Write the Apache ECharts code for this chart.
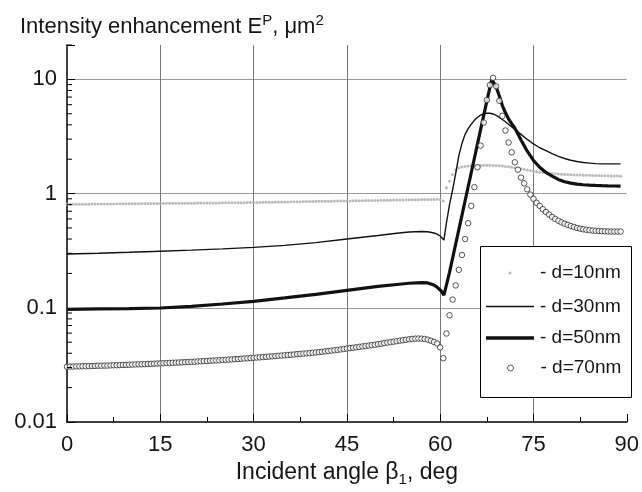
<!DOCTYPE html>
<html><head><meta charset="utf-8">
<script src="https://cdn.jsdelivr.net/npm/echarts@6/dist/echarts.min.js"></script>
<style>html,body{margin:0;padding:0;background:#fff}#c{width:642px;height:492px}</style>
</head><body><div id="c"></div>
<script>
const FONT = '"Liberation Sans", Arial, Helvetica, sans-serif';
const xTicks = [0, 15, 30, 45, 60, 75, 90];
const yTickLabels = ['0.01', '0.1', '1', '10'];
const yMinorTicks = [0.02,0.03,0.04,0.05,0.06,0.07,0.08,0.09,0.2,0.3,0.4,0.5,0.6,0.7,0.8,0.9,2,3,4,5,6,7,8,9,20];
const seriesNames = ['- d=10nm', '- d=30nm', '- d=50nm', '- d=70nm'];

// marker series sampled every 0.5 deg from 0 deg
const dotStart = 0, dotStep = 0.5;
const d10 = [
 .805,.805,.806,.806,.807,.807,.808,.808,.809,.809,
 .810,.810,.811,.811,.812,.812,.813,.813,.814,.814,
 .815,.815,.816,.816,.817,.817,.818,.818,.819,.819,
 .820,.820,.821,.821,.822,.822,.823,.823,.824,.824,
 .825,.825,.826,.826,.827,.827,.828,.828,.829,.829,
 .830,.830,.831,.831,.832,.832,.833,.833,.834,.834,
 .835,.836,.837,.838,.839,.840,.841,.842,.843,.844,
 .845,.846,.847,.848,.849,.850,.851,.852,.853,.854,
 .855,.856,.856,.857,.858,.858,.859,.860,.860,.861,
 .862,.863,.864,.865,.866,.867,.868,.869,.870,.871,
 .872,.873,.874,.875,.876,.877,.878,.879,.880,.881,
 .882,.883,.884,.885,.886,.887,.888,.889,.889,.890,
 .885,.860,1.125,1.28,1.47,1.62,1.68,1.71,1.73,1.745,
 1.755,1.76,1.765,1.768,1.77,1.77,1.768,1.765,1.76,1.753,
 1.745,1.73,1.715,1.70,1.685,1.67,1.65,1.63,1.61,1.59,
 1.57,1.555,1.54,1.53,1.52,1.51,1.50,1.492,1.485,1.478,
 1.47,1.466,1.462,1.458,1.455,1.452,1.45,1.447,1.445,1.442,
 1.44,1.437,1.435,1.432,1.43,1.428,1.425,1.423,1.42
];
const d70 = [
 .0305,.0306,.0306,.0307,.0307,.0308,.0308,.0309,.0309,.0310,
 .0311,.0311,.0312,.0312,.0313,.0314,.0314,.0315,.0316,.0316,
 .0317,.0318,.0319,.0320,.0320,.0321,.0322,.0323,.0324,.0325,
 .0326,.0327,.0328,.0329,.0330,.0331,.0332,.0333,.0334,.0335,
 .0336,.0337,.0339,.0340,.0341,.0342,.0344,.0345,.0346,.0347,
 .0349,.0350,.0352,.0353,.0355,.0356,.0358,.0360,.0361,.0363,
 .0365,.0367,.0368,.0370,.0372,.0374,.0376,.0378,.0380,.0382,
 .0384,.0386,.0388,.0390,.0393,.0395,.0397,.0399,.0401,.0404,
 .0406,.0409,.0412,.0415,.0418,.0422,.0425,.0428,.0432,.0436,
 .0440,.0443,.0447,.0451,.0455,.0459,.0463,.0467,.0471,.0475,
 .0480,.0485,.0490,.0495,.0500,.0505,.0510,.0515,.0520,.0525,
 .0530,.0534,.0537,.0538,.0537,.0533,.0526,.0515,.0502,.0487,
 .0450,.0362,.0595,.086,.118,.157,.215,.29,.40,.55,
 .78,1.14,1.70,2.63,4.19,6.6,8.9,10.3,8.7,6.5,
 4.79,3.57,2.80,2.30,1.88,1.62,1.38,1.23,1.09,.98,
 .90,.83,.78,.73,.69,.655,.625,.60,.578,.56,
 .545,.532,.52,.51,.50,.493,.487,.482,.478,.475,
 .472,.47,.468,.467,.466,.465,.465,.465,.465
];

// line series
const ang30 = [0,5,10,15,20,25,30,35,40,45,50,53,55,57,58,59,59.5,60,60.3,60.6,61,61.5,62,62.5,63,63.5,64,64.5,65,65.5,66,66.5,67,67.5,68,68.5,69,69.5,70,71,72,73,74,75,76,77,78,79,80,81,82,83,84,85,86,87,88,89];
const d30 = [.296,.300,.306,.313,.320,.328,.338,.352,.372,.400,.430,.450,.461,.466,.463,.452,.442,.425,.410,.392,.55,.80,1.08,1.5,2.15,2.75,3.3,3.7,4.05,4.38,4.66,4.87,5.0,5.06,5.05,4.98,4.85,4.65,4.45,4.05,3.65,3.3,2.98,2.72,2.52,2.38,2.24,2.12,2.03,1.96,1.91,1.87,1.85,1.83,1.82,1.82,1.82,1.82];
const ang50 = [0,5,10,15,20,25,30,35,40,45,50,53,55,57,58,59,59.5,60,60.3,60.6,61,61.5,62,62.5,63,63.5,64,64.5,65,65.5,66,66.5,67,67.5,68,68.3,68.5,69,69.5,70,70.5,71,71.5,72,73,74,75,76,77,78,79,80,81,82,83,84,85,86,87,88,89];
const d50 = [.097,.098,.0985,.0996,.103,.108,.114,.122,.131,.142,.154,.160,.164,.166,.165,.158,.152,.143,.137,.129,.158,.204,.272,.363,.484,.645,.861,1.148,1.53,2.04,2.72,3.63,4.84,6.46,8.5,10.0,9.8,8.6,7.2,5.9,5.1,4.5,4.1,3.75,2.95,2.35,1.95,1.70,1.53,1.42,1.33,1.27,1.235,1.21,1.195,1.185,1.178,1.172,1.168,1.165,1.162];

const pairsFromStep = (vals) => vals.map((v, i) => [dotStart + i * dotStep, v]);
const pairsFromAng = (angs, vals) => angs.map((a, i) => [a, vals[i]]);

const txt = '#151515';
const chart = echarts.init(document.getElementById('c'), null, {renderer: 'canvas'});

// legend rows: icon area spans 48px starting at x=486; text starts after it
const LEG_X = 486, LEG_W = 48;
function legendFor(name, rowTop, itemHeight, iconExtent, style) {
  return {
    show: true, data: [{name: name, icon: style.icon}],
    left: LEG_X + (LEG_W - iconExtent) / 2, top: rowTop,
    orient: 'horizontal', padding: 0, itemWidth: LEG_W, itemHeight: itemHeight,
    selectedMode: false, z: 20,
    itemStyle: style.itemStyle,
    textStyle: {fontFamily: FONT, fontSize: 19, color: txt, lineHeight: 22, padding: [0, 0, 0, 1]}
  };
}

chart.setOption({
  animation: false,
  backgroundColor: '#fff',
  title: {
    text: '{a|Intensity enhancement E}{p|P}{a|, μm}{p|2}',
    left: 15, top: 8, padding: 5,
    textStyle: {
      fontWeight: 'normal',
      rich: {
        a: {fontFamily: FONT, fontSize: 22, fontWeight: 'normal', color: txt, lineHeight: 28},
        p: {fontFamily: FONT, fontSize: 15, fontWeight: 'normal', color: txt, lineHeight: 16, verticalAlign: 'top'}
      }
    }
  },
  grid: {left: 67, right: 11, top: 45, bottom: 68, containLabel: false},
  xAxis: {
    type: 'value', min: xTicks[0], max: xTicks[xTicks.length - 1], interval: xTicks[1] - xTicks[0],
    axisLine: {show: true, onZero: false, lineStyle: {color: '#000', width: 1.5}},
    axisTick: {show: true, inside: true, length: 8, lineStyle: {color: '#000', width: 1}},
    minorTick: {show: true, splitNumber: 2, length: 5, lineStyle: {color: '#000', width: 1}},
    axisLabel: {margin: 12, fontFamily: FONT, fontSize: 22, color: txt},
    splitLine: {show: true, showMinLine: false, showMaxLine: false, lineStyle: {color: '#7a7a7a', width: 1}},
    name: '{a|Incident angle β}{s|1}{a|, deg}',
    nameLocation: 'middle', nameGap: 37,
    nameTextStyle: {
      rich: {
        a: {fontFamily: FONT, fontSize: 23, color: txt, lineHeight: 28},
        s: {fontFamily: FONT, fontSize: 15, color: txt, lineHeight: 15, verticalAlign: 'bottom'}
      }
    }
  },
  yAxis: {
    type: 'log', logBase: 10, min: 0.01, max: 20,
    axisLine: {show: true, onZero: false, lineStyle: {color: '#000', width: 1.5}},
    axisTick: {show: true, inside: true, length: 8, lineStyle: {color: '#000', width: 1}},
    axisLabel: {
      margin: 10, fontFamily: FONT, fontSize: 22, color: txt,
      formatter: function (v) {
        const l = Math.log10(v), r = Math.round(l);
        if (Math.abs(l - r) > 1e-6) return '';
        const idx = r + 2;
        return (idx >= 0 && idx < yTickLabels.length) ? yTickLabels[idx] : '';
      }
    },
    splitLine: {show: true, showMinLine: false, showMaxLine: false, lineStyle: {color: '#9a9a9a', width: 1}}
  },
  legend: [
    legendFor(seriesNames[0], 262, 3, 3, {icon: 'circle', itemStyle: {color: '#a8a8a8', borderWidth: 0}}),
    legendFor(seriesNames[1], 295.5, 1.5, LEG_W, {icon: 'rect', itemStyle: {color: '#111', borderWidth: 0}}),
    legendFor(seriesNames[2], 327, 3.5, LEG_W, {icon: 'rect', itemStyle: {color: '#111', borderWidth: 0}}),
    legendFor(seriesNames[3], 357, 6, 6, {icon: 'circle', itemStyle: {color: '#fff', borderColor: '#333', borderWidth: 1}})
  ],
  graphic: [{
    type: 'rect', left: 480, top: 246, z: 10,
    shape: {width: 151, height: 151},
    style: {fill: '#fff', stroke: '#000', lineWidth: 1}
  }],
  series: [
    {
      name: seriesNames[0], type: 'scatter', data: pairsFromStep(d10),
      symbol: 'circle', symbolSize: 3, itemStyle: {color: '#aaaaaa'}, z: 3
    },
    {
      name: seriesNames[1], type: 'line', data: pairsFromAng(ang30, d30),
      showSymbol: false, symbol: 'none', lineStyle: {color: '#111', width: 1.4}, z: 4
    },
    {
      name: seriesNames[2], type: 'line', data: pairsFromAng(ang50, d50),
      showSymbol: false, symbol: 'none', lineStyle: {color: '#111', width: 3.2}, z: 5
    },
    {
      name: seriesNames[3], type: 'scatter', data: pairsFromStep(d70),
      symbol: 'circle', symbolSize: 5.5, itemStyle: {color: '#fff', borderColor: '#2a2a2a', borderWidth: 1}, z: 6
    },
    {
      name: 'yMinor', type: 'custom', silent: true, clip: false, z: 7,
      data: yMinorTicks.map(v => [0, v]),
      renderItem: function (params, api) {
        const p = api.coord([api.value(0), api.value(1)]);
        return {type: 'line', shape: {x1: p[0], y1: p[1], x2: p[0] + 5, y2: p[1]},
                style: {stroke: '#000', lineWidth: 1}};
      }
    }
  ]
});
</script>
</body></html>
